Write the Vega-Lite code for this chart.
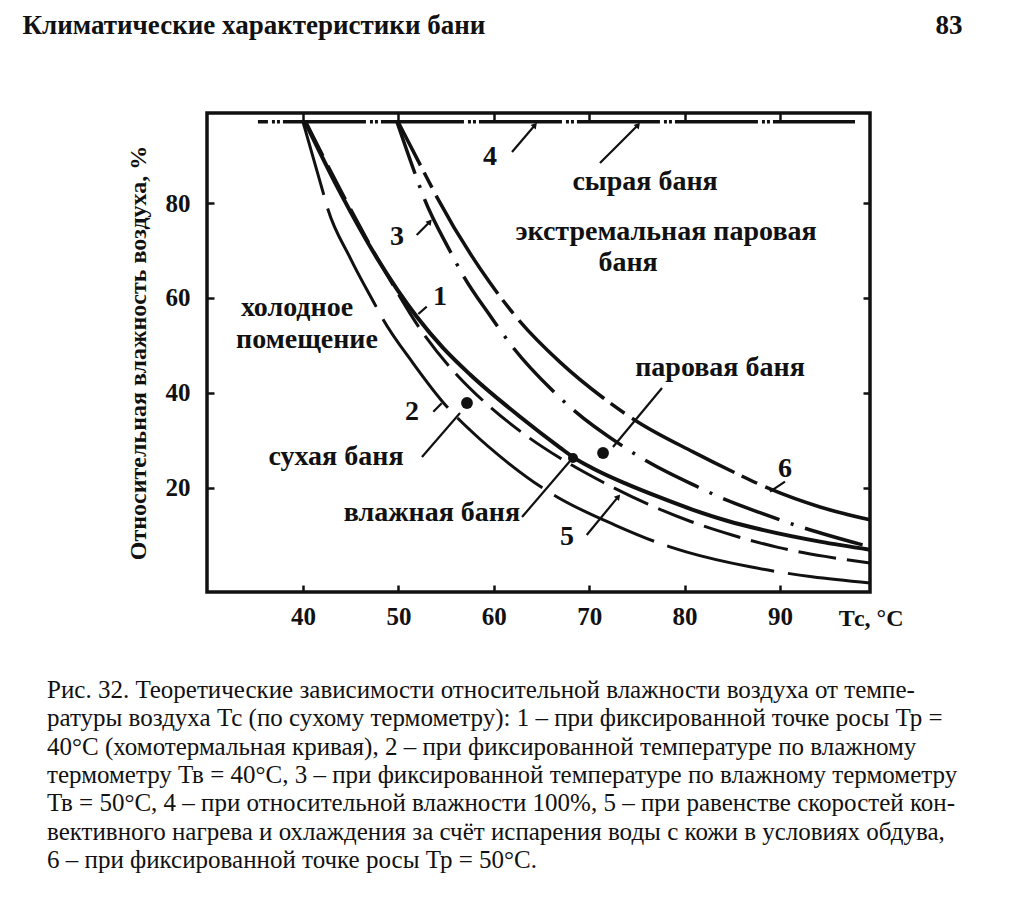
{
  "$schema": "https://vega.github.io/schema/vega-lite/v6.json",
  "width": 663,
  "height": 479,
  "autosize": {"type": "none"},
  "padding": {"left": 207, "top": 113, "right": 139, "bottom": 309},
  "background": "white",
  "config": {
    "view": {"stroke": "#111", "strokeWidth": 3.5, "fill": "white"},
    "font": "Liberation Serif",
    "axis": {"labelColor": "#111", "titleColor": "#111", "tickColor": "#111", "grid": false, "domain": false}
  },
  "title": {
    "text": [
      "\u00a0\u00a0\u00a0\u00a0\u00a0\u00a0\u00a0Рис. 32. Теоретические зависимости относительной влажности воздуха от темпе-",
      "ратуры воздуха Тс (по сухому термометру): 1 – при фиксированной точке росы Тр =",
      "40°С (хомотермальная кривая), 2 – при фиксированной температуре по влажному",
      "термометру Тв = 40°С, 3 – при фиксированной температуре по влажному термометру",
      "Тв = 50°С, 4 – при относительной влажности 100%, 5 – при равенстве скоростей кон-",
      "вективного нагрева и охлаждения за счёт испарения воды с кожи в условиях обдува,",
      "6 – при фиксированной точке росы Тр = 50°С."
    ],
    "orient": "bottom",
    "anchor": "start",
    "frame": "group",
    "dx": -160,
    "offset": 48,
    "baseline": "top",
    "font": "Liberation Serif",
    "fontSize": 25,
    "fontWeight": "normal",
    "lineHeight": 28.3,
    "color": "#111"
  },
  "datasets": {
    "curves": [
      {"curve": "1", "T": 40.21, "RH": 97.1}, {"curve": "1", "T": 43.88, "RH": 82.3}, {"curve": "1", "T": 47.76, "RH": 68.4},
      {"curve": "1", "T": 51.95, "RH": 56.0}, {"curve": "1", "T": 54.68, "RH": 49.5}, {"curve": "1", "T": 57.51, "RH": 43.9},
      {"curve": "1", "T": 62.75, "RH": 35.0}, {"curve": "1", "T": 66.94, "RH": 28.5}, {"curve": "1", "T": 68.3, "RH": 26.5},
      {"curve": "1", "T": 70.4, "RH": 24.1}, {"curve": "1", "T": 73.96, "RH": 20.8}, {"curve": "1", "T": 77.42, "RH": 18.0},
      {"curve": "1", "T": 80.88, "RH": 15.4}, {"curve": "1", "T": 84.44, "RH": 13.1}, {"curve": "1", "T": 87.9, "RH": 11.3},
      {"curve": "1", "T": 94.19, "RH": 8.7}, {"curve": "1", "T": 99.43, "RH": 7.0},

      {"curve": "2", "T": 40.0, "RH": 97.1}, {"curve": "2", "T": 42.1, "RH": 82.3}, {"curve": "2", "T": 42.52, "RH": 79.3},
      {"curve": "2", "T": 44.93, "RH": 68.5}, {"curve": "2", "T": 47.55, "RH": 58.6}, {"curve": "2", "T": 48.28, "RH": 55.9},
      {"curve": "2", "T": 51.53, "RH": 46.3}, {"curve": "2", "T": 55.09, "RH": 37.1}, {"curve": "2", "T": 57.51, "RH": 32.2},
      {"curve": "2", "T": 61.49, "RH": 25.3}, {"curve": "2", "T": 65.58, "RH": 19.4}, {"curve": "2", "T": 66.73, "RH": 18.0},
      {"curve": "2", "T": 72.7, "RH": 12.2}, {"curve": "2", "T": 78.47, "RH": 7.6}, {"curve": "2", "T": 80.25, "RH": 6.5},
      {"curve": "2", "T": 86.86, "RH": 3.4}, {"curve": "2", "T": 93.35, "RH": 1.3}, {"curve": "2", "T": 99.43, "RH": 0.0},

      {"curve": "3", "T": 49.85, "RH": 97.1}, {"curve": "3", "T": 51.6, "RH": 87.0}, {"curve": "3", "T": 52.7, "RH": 81.0},
      {"curve": "3", "T": 55.41, "RH": 69.9}, {"curve": "3", "T": 56.77, "RH": 64.8}, {"curve": "3", "T": 59.6, "RH": 56.3},
      {"curve": "3", "T": 62.01, "RH": 49.6}, {"curve": "3", "T": 66.21, "RH": 40.4}, {"curve": "3", "T": 68.3, "RH": 36.5},
      {"curve": "3", "T": 73.75, "RH": 28.5}, {"curve": "3", "T": 76.16, "RH": 25.5}, {"curve": "3", "T": 81.4, "RH": 20.2},
      {"curve": "3", "T": 84.23, "RH": 17.6}, {"curve": "3", "T": 87.9, "RH": 14.8}, {"curve": "3", "T": 91.89, "RH": 12.0},
      {"curve": "3", "T": 99.43, "RH": 7.6},

      {"curve": "4", "T": 35.28, "RH": 97.12}, {"curve": "4", "T": 97.86, "RH": 97.12},

      {"curve": "5", "T": 40.31, "RH": 97.1}, {"curve": "5", "T": 44.4, "RH": 81.0}, {"curve": "5", "T": 48.6, "RH": 65.6},
      {"curve": "5", "T": 52.79, "RH": 52.0}, {"curve": "5", "T": 56.14, "RH": 43.8}, {"curve": "5", "T": 59.08, "RH": 38.0},
      {"curve": "5", "T": 63.27, "RH": 31.2}, {"curve": "5", "T": 66.94, "RH": 26.3}, {"curve": "5", "T": 71.45, "RH": 21.2},
      {"curve": "5", "T": 76.16, "RH": 16.6}, {"curve": "5", "T": 80.57, "RH": 13.0}, {"curve": "5", "T": 84.97, "RH": 10.1},
      {"curve": "5", "T": 89.79, "RH": 7.5}, {"curve": "5", "T": 94.72, "RH": 5.6}, {"curve": "5", "T": 99.43, "RH": 4.2},

      {"curve": "6", "T": 49.96, "RH": 97.1}, {"curve": "6", "T": 52.58, "RH": 86.9}, {"curve": "6", "T": 54.05, "RH": 81.2},
      {"curve": "6", "T": 59.6, "RH": 63.2}, {"curve": "6", "T": 62.43, "RH": 55.8}, {"curve": "6", "T": 66.94, "RH": 46.5},
      {"curve": "6", "T": 71.45, "RH": 39.0}, {"curve": "6", "T": 75.01, "RH": 34.0}, {"curve": "6", "T": 80.88, "RH": 27.6},
      {"curve": "6", "T": 85.49, "RH": 23.0}, {"curve": "6", "T": 88.95, "RH": 19.8}, {"curve": "6", "T": 94.19, "RH": 16.0},
      {"curve": "6", "T": 99.43, "RH": 13.3}
    ],
    "points": [
      {"name": "сухая баня", "kind": "big", "T": 57.19, "RH": 37.89},
      {"name": "паровая баня", "kind": "big", "T": 71.45, "RH": 27.37},
      {"name": "влажная баня", "kind": "small", "T": 68.3, "RH": 26.32}
    ],
    "labels": [
      {"text": "сырая баня", "T": 75.85, "RH": 84.42},
      {"text": "экстремальная паровая", "T": 78.05, "RH": 73.9},
      {"text": "баня", "T": 74.07, "RH": 67.37},
      {"text": "холодное", "T": 39.37, "RH": 57.89},
      {"text": "помещение", "T": 40.42, "RH": 51.16},
      {"text": "паровая баня", "T": 83.71, "RH": 45.26},
      {"text": "сухая баня", "T": 43.46, "RH": 26.53},
      {"text": "влажная баня", "T": 53.52, "RH": 14.74},
      {"text": "4", "T": 59.6, "RH": 89.68},
      {"text": "3", "T": 49.85, "RH": 72.84},
      {"text": "1", "T": 54.36, "RH": 60.21},
      {"text": "2", "T": 51.43, "RH": 36.0},
      {"text": "5", "T": 67.67, "RH": 9.68},
      {"text": "6", "T": 90.52, "RH": 24.0}
    ],
    "leaders": [
      {"kind": "line", "T": 52.47, "RH": 26.53, "T2": 56.46, "RH2": 35.79},
      {"kind": "line", "T": 62.96, "RH": 13.89, "T2": 67.99, "RH2": 25.68},
      {"kind": "line", "T": 77.63, "RH": 41.05, "T2": 72.49, "RH2": 28.63},
      {"kind": "arrow", "T": 61.91, "RH": 90.74, "T2": 64.32, "RH2": 96.42},
      {"kind": "arrow", "T": 71.13, "RH": 88.42, "T2": 75.12, "RH2": 96.42},
      {"kind": "arrow", "T": 51.92, "RH": 73.26, "T2": 53.3, "RH2": 76.06},
      {"kind": "line", "T": 52.97, "RH": 58.17, "T2": 52.09, "RH2": 56.63},
      {"kind": "line", "T": 53.66, "RH": 36.06, "T2": 54.54, "RH2": 37.83},
      {"kind": "arrow", "T": 69.74, "RH": 10.11, "T2": 73.05, "RH2": 18.17},
      {"kind": "line", "T": 88.95, "RH": 19.22, "T2": 90.52, "RH2": 21.33}
    ]
  },
  "resolve": {"axis": {"x": "independent", "y": "independent"}},
  "encoding": {
    "x": {"field": "T", "type": "quantitative", "scale": {"domain": [29.94, 99.43], "nice": false, "zero": false}, "axis": null},
    "y": {"field": "RH", "type": "quantitative", "scale": {"domain": [-1.9, 98.95], "nice": false, "zero": false}, "axis": null}
  },
  "layer": [
    {
      "data": {"name": "curves"},
      "transform": [{"filter": "datum.curve === '1'"}],
      "mark": {"type": "line", "interpolate": "monotone", "color": "#111", "strokeWidth": 4},
      "encoding": {
        "x": {
          "field": "T", "type": "quantitative",
          "scale": {"domain": [29.94, 99.43], "nice": false, "zero": false},
          "axis": {
            "orient": "bottom", "values": [40, 50, 60, 70, 80, 90],
            "tickSize": -7, "tickWidth": 2.5,
            "labelFont": "Liberation Serif", "labelFontSize": 25, "labelFontWeight": "bold", "labelPadding": 19,
            "title": "Тс, °С", "titleFont": "Liberation Serif", "titleFontSize": 24, "titleFontWeight": "bold",
            "titleX": 696, "titleY": 26, "titleAlign": "right", "titleBaseline": "middle"
          }
        },
        "y": {
          "field": "RH", "type": "quantitative",
          "scale": {"domain": [-1.9, 98.95], "nice": false, "zero": false},
          "axis": {
            "orient": "left", "values": [20, 40, 60, 80],
            "tickSize": -7, "tickWidth": 2.5,
            "labelFont": "Liberation Serif", "labelFontSize": 25, "labelFontWeight": "bold", "labelPadding": 24,
            "title": "Относительная влажность воздуха, %", "titleFont": "Liberation Serif", "titleFontSize": 24, "titleFontWeight": "bold",
            "titleX": -69, "titleY": 239.5, "titleAngle": -90, "titleAlign": "center", "titleBaseline": "middle"
          }
        }
      }
    },
    {
      "data": {"name": "curves"},
      "transform": [{"filter": "datum.curve === '2'"}],
      "mark": {"type": "line", "interpolate": "monotone", "color": "#111", "strokeWidth": 3, "strokeDash": [110, 14], "strokeDashOffset": 34},
      "encoding": {
        "x": {
          "field": "T", "type": "quantitative",
          "scale": {"domain": [29.94, 99.43], "nice": false, "zero": false},
          "axis": {
            "orient": "top", "values": [40, 50, 60, 70, 80, 90], "labels": false,
            "tickSize": -7, "tickWidth": 2.5,
            "title": "Климатические характеристики бани", "titleFont": "Liberation Serif", "titleFontSize": 27, "titleFontWeight": "bold",
            "titleX": -185, "titleY": -88, "titleAlign": "left", "titleBaseline": "middle", "titleAngle": 0
          }
        },
        "y": {
          "field": "RH", "type": "quantitative",
          "scale": {"domain": [-1.9, 98.95], "nice": false, "zero": false},
          "axis": {
            "orient": "right", "values": [20, 40, 60, 80], "labels": false,
            "tickSize": -7, "tickWidth": 2.5,
            "title": "83", "titleFont": "Liberation Serif", "titleFontSize": 27, "titleFontWeight": "bold",
            "titleX": 92, "titleY": -88, "titleAlign": "right", "titleBaseline": "middle", "titleAngle": 0
          }
        }
      }
    },
    {
      "data": {"name": "curves"},
      "transform": [{"filter": "datum.curve === '3'"}],
      "mark": {"type": "line", "interpolate": "monotone", "color": "#111", "strokeWidth": 3.5, "strokeDash": [60, 12, 3, 12], "strokeDashOffset": 5}
    },
    {
      "data": {"name": "curves"},
      "transform": [{"filter": "datum.curve === '4'"}],
      "mark": {"type": "line", "color": "#111", "strokeWidth": 3.5, "strokeDash": [83, 4, 3, 2, 3, 3], "strokeDashOffset": 73}
    },
    {
      "data": {"name": "curves"},
      "transform": [{"filter": "datum.curve === '5'"}],
      "mark": {"type": "line", "interpolate": "monotone", "color": "#111", "strokeWidth": 3, "strokeDash": [38, 11]}
    },
    {
      "data": {"name": "curves"},
      "transform": [{"filter": "datum.curve === '6'"}],
      "mark": {"type": "line", "interpolate": "monotone", "color": "#111", "strokeWidth": 3.5, "strokeDash": [116, 8, 17, 9], "strokeDashOffset": 67}
    },
    {
      "data": {"name": "leaders"},
      "mark": {"type": "rule", "color": "#111", "strokeWidth": 2.2},
      "encoding": {
        "x2": {"field": "T2"},
        "y2": {"field": "RH2"}
      }
    },
    {
      "data": {"name": "leaders"},
      "transform": [{"filter": "datum.kind === 'arrow'"}],
      "mark": {"type": "point", "shape": "triangle-up", "filled": true, "color": "#111", "opacity": 1, "size": 45, "angle": 40},
      "encoding": {
        "x": {"field": "T2", "type": "quantitative", "axis": null},
        "y": {"field": "RH2", "type": "quantitative", "axis": null}
      }
    },
    {
      "data": {"name": "points"},
      "transform": [{"filter": "datum.kind === 'big'"}],
      "mark": {"type": "point", "shape": "circle", "filled": true, "color": "#111", "opacity": 1, "size": 140}
    },
    {
      "data": {"name": "points"},
      "transform": [{"filter": "datum.kind === 'small'"}],
      "mark": {"type": "point", "shape": "circle", "filled": true, "color": "#111", "opacity": 1, "size": 100}
    },
    {
      "data": {"name": "labels"},
      "mark": {"type": "text", "font": "Liberation Serif", "fontSize": 28, "fontWeight": "bold", "color": "#111", "align": "center", "baseline": "middle"},
      "encoding": {"text": {"field": "text"}}
    },
    {
      "data": {"values": [{}]},
      "mark": {"type": "rule", "color": "#111", "strokeWidth": 2.5},
      "encoding": {
        "x": {"datum": 10.55, "type": "quantitative", "axis": null},
        "x2": {"datum": 111.49},
        "y": {"datum": 113.9, "type": "quantitative", "axis": null}
      }
    }
  ]
}
